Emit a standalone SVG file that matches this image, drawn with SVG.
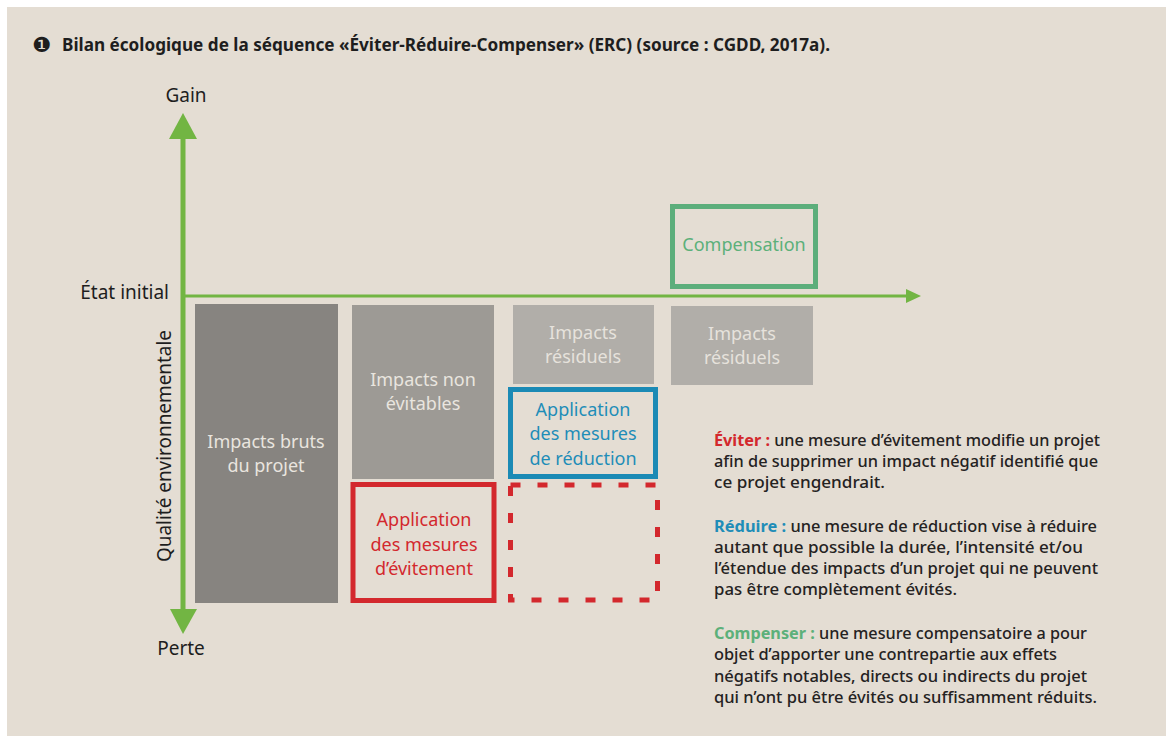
<svg xmlns="http://www.w3.org/2000/svg" width="1166" height="736" viewBox="0 0 1166 736">
<defs>
<style>
.t{font-family:"Noto Sans","Open Sans","DejaVu Sans",sans-serif;}
.box{font-family:"Noto Sans","Open Sans",sans-serif;font-size:18px;text-anchor:middle;}
.gl{fill:#e9e5df;}
.gl2{fill:#e6e2dc;}
.axl{font-family:"Noto Sans","Open Sans",sans-serif;font-size:19px;fill:#1e1e1e;}
.body{font-family:"Noto Sans","Open Sans",sans-serif;font-size:15.5px;font-weight:500;fill:#242222;}
.kw{font-weight:700;}
</style>
</defs>
<rect x="0" y="0" width="1166" height="736" fill="#ffffff"/>
<rect x="7" y="7" width="1159" height="729" fill="#e4ddd3"/>

<g id="title">
<text x="32" y="52" font-family="DejaVu Sans,sans-serif" font-size="21" fill="#1e1e1e">❶</text>
<text x="62" y="51" class="t" font-size="17" font-weight="700" fill="#1e1e1e" textLength="768" lengthAdjust="spacingAndGlyphs">Bilan écologique de la séquence «Éviter-Réduire-Compenser» (ERC) (source : CGDD, 2017a).</text>
</g>

<g id="axes">
<line x1="183" y1="135" x2="183" y2="612" stroke="#72b543" stroke-width="5"/>
<polygon points="169,139 197,139 183,113" fill="#72b543"/>
<polygon points="170,609 197,609 183,634" fill="#72b543"/>
<line x1="181" y1="296" x2="909" y2="296" stroke="#72b543" stroke-width="3"/>
<polygon points="906,289 921,296 906,303" fill="#72b543"/>
<text x="186" y="102" class="axl" text-anchor="middle">Gain</text>
<text x="181" y="655" class="axl" text-anchor="middle">Perte</text>
<text x="169" y="299" class="axl" text-anchor="end">État initial</text>
<text transform="translate(171,446) rotate(-90)" class="axl" text-anchor="middle" textLength="232" lengthAdjust="spacingAndGlyphs">Qualité environnementale</text>
</g>

<g id="impacts-bruts">
<rect x="195" y="304" width="143" height="299" fill="#878480"/>
<text class="box gl" x="266" y="448">Impacts bruts</text>
<text class="box gl" x="266" y="472">du projet</text>
</g>

<g id="impacts-non-evitables">
<rect x="352" y="305" width="142" height="174" fill="#9d9a95"/>
<text class="box gl" x="423" y="386">Impacts non</text>
<text class="box gl" x="423" y="410">évitables</text>
</g>

<g id="evitement">
<rect x="353" y="484.5" width="141" height="116" fill="none" stroke="#d3282d" stroke-width="5"/>
<text class="box" fill="#d3282d" x="424" y="526">Application</text>
<text class="box" fill="#d3282d" x="424" y="551">des mesures</text>
<text class="box" fill="#d3282d" x="424" y="575">d’évitement</text>
</g>

<g id="impacts-residuels-1">
<rect x="513" y="305" width="141" height="79" fill="#b1aea9"/>
<text class="box gl2" x="583" y="339">Impacts</text>
<text class="box gl2" x="583" y="363">résiduels</text>
</g>

<g id="reduction">
<rect x="510.5" y="389.5" width="145" height="87" fill="none" stroke="#1b8ab5" stroke-width="5"/>
<text class="box" fill="#1f8db8" x="583" y="416">Application</text>
<text class="box" fill="#1f8db8" x="583" y="440">des mesures</text>
<text class="box" fill="#1f8db8" x="583" y="465">de réduction</text>
</g>

<g id="evitement-dashed">
<rect x="510.5" y="485" width="147" height="115" fill="none" stroke="#d3282d" stroke-width="5" stroke-dasharray="10 17"/>
</g>

<g id="impacts-residuels-2">
<rect x="671" y="306" width="142" height="79" fill="#b1aea9"/>
<text class="box gl2" x="742" y="340">Impacts</text>
<text class="box gl2" x="742" y="364">résiduels</text>
</g>

<g id="compensation">
<rect x="672.5" y="206.5" width="143" height="80" fill="none" stroke="#5cae7b" stroke-width="5"/>
<text class="box" fill="#5cb07a" x="744" y="251">Compensation</text>
</g>

<g id="legend">
<text class="body" x="714" y="446" textLength="386" lengthAdjust="spacingAndGlyphs"><tspan class="kw" fill="#d3282d">Éviter :</tspan> une mesure d’évitement modifie un projet</text>
<text class="body" x="714" y="467" textLength="384" lengthAdjust="spacingAndGlyphs">afin de supprimer un impact négatif identifié que</text>
<text class="body" x="714" y="488" textLength="171" lengthAdjust="spacingAndGlyphs">ce projet engendrait.</text>

<text class="body" x="714" y="532" textLength="383" lengthAdjust="spacingAndGlyphs"><tspan class="kw" fill="#1f8db8">Réduire :</tspan> une mesure de réduction vise à réduire</text>
<text class="body" x="714" y="553" textLength="369" lengthAdjust="spacingAndGlyphs">autant que possible la durée, l’intensité et/ou</text>
<text class="body" x="714" y="574" textLength="384" lengthAdjust="spacingAndGlyphs">l’étendue des impacts d’un projet qui ne peuvent</text>
<text class="body" x="714" y="595" textLength="243" lengthAdjust="spacingAndGlyphs">pas être complètement évités.</text>

<text class="body" x="714" y="639" textLength="373" lengthAdjust="spacingAndGlyphs"><tspan class="kw" fill="#5cb07a">Compenser :</tspan> une mesure compensatoire a pour</text>
<text class="body" x="714" y="660" textLength="343" lengthAdjust="spacingAndGlyphs">objet d’apporter une contrepartie aux effets</text>
<text class="body" x="714" y="682" textLength="373" lengthAdjust="spacingAndGlyphs">négatifs notables, directs ou indirects du projet</text>
<text class="body" x="714" y="703" textLength="383" lengthAdjust="spacingAndGlyphs">qui n’ont pu être évités ou suffisamment réduits.</text>
</g>
</svg>
